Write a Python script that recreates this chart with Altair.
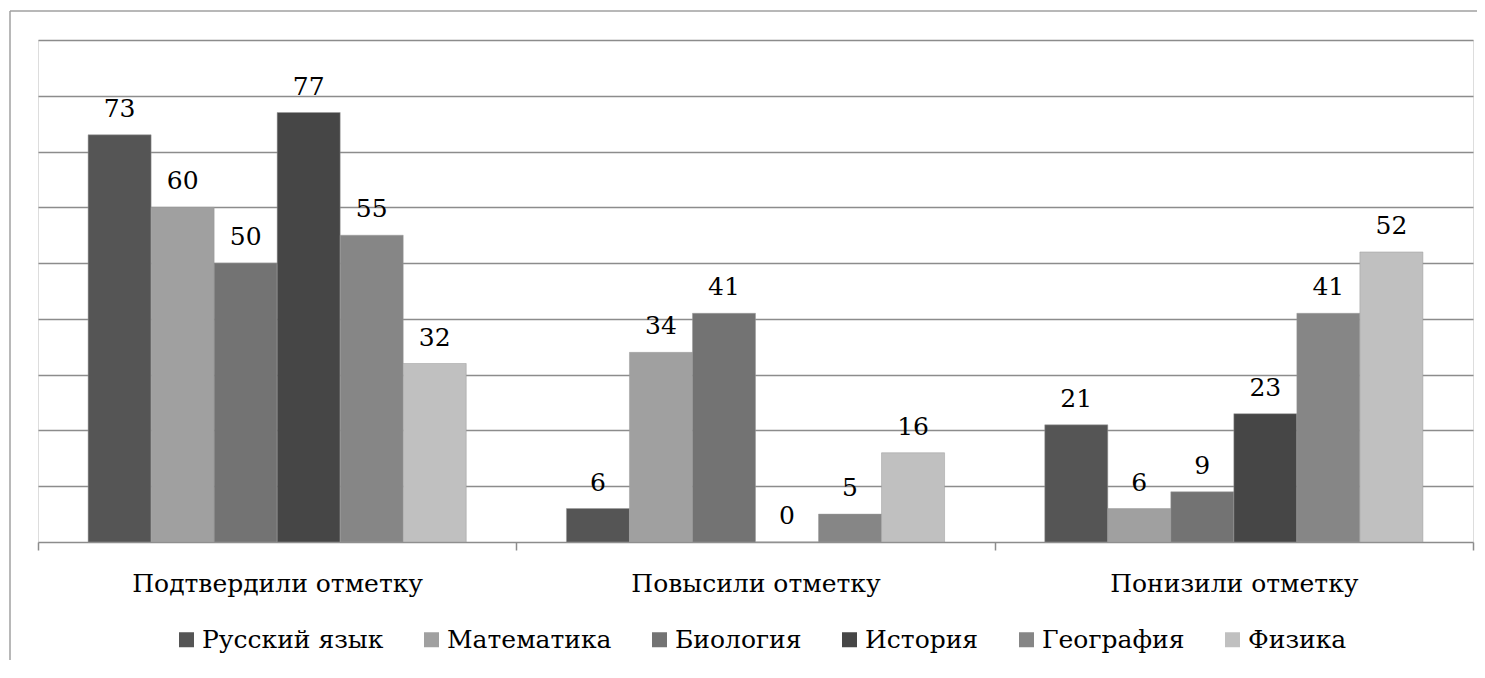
import altair as alt
import pandas as pd

categories = ["Подтвердили отметку", "Повысили отметку", "Понизили отметку"]
subjects = ["Русский язык", "Математика", "Биология", "История", "География", "Физика"]
values_rus = [73, 6, 21]
values_math = [60, 34, 6]
values_bio = [50, 41, 9]
values_hist = [77, 0, 23]
values_geo = [55, 5, 41]
values_phys = [32, 16, 52]
colors = ["#555555", "#a0a0a0", "#737373", "#464646", "#868686", "#c0c0c0"]
grid_values = [10, 20, 30, 40, 50, 60, 70, 80, 90]

series = [values_rus, values_math, values_bio, values_hist, values_geo, values_phys]
rows = []
for s, vals in zip(subjects, series):
    for c, v in zip(categories, vals):
        rows.append({"category": c, "subject": s, "value": v})
df = pd.DataFrame(rows)

FONT = "DejaVu Serif"
FS = 25
LEG_FS = 25
GRAY = "#8c8c8c"

x_enc = alt.X(
    "category:N", sort=categories, title=None,
    scale=alt.Scale(paddingInner=0, paddingOuter=0),
    axis=alt.Axis(labelAngle=0, tickBand="extent", labelFont=FONT, labelFontSize=FS,
                  labelColor="black", domainColor=GRAY, domainWidth=1.5, tickColor=GRAY,
                  tickWidth=1.5, tickSize=8, labelPadding=21, labelLimit=0, grid=False),
)
xoff = alt.XOffset("subject:N", sort=subjects,
                   scale=alt.Scale(paddingInner=0, paddingOuter=0.795))
y_enc = alt.Y(
    "value:Q", title=None, scale=alt.Scale(domain=[0, 90], nice=False),
    axis=alt.Axis(values=grid_values, labels=False, ticks=False, domain=False, grid=True,
                  gridColor=GRAY, gridWidth=1.5),
)

base = alt.Chart(df)
bars = base.mark_bar(stroke="#9a9a9a", strokeWidth=0.5).encode(
    x=x_enc, xOffset=xoff, y=y_enc,
    color=alt.Color(
        "subject:N", sort=subjects,
        scale=alt.Scale(domain=subjects, range=colors),
        legend=alt.Legend(orient="none", legendX=136, legendY=587, direction="horizontal",
                          title=None, symbolType="square", symbolSize=225,
                          symbolStrokeWidth=0, labelFont=FONT, labelFontSize=LEG_FS,
                          labelColor="black", columnPadding=35, labelOffset=3,
                          labelLimit=0),
    ),
)
labels = base.mark_text(font=FONT, fontSize=FS, color="black", baseline="alphabetic", dy=-18).encode(
    x=alt.X("category:N", sort=categories), xOffset=xoff, y=alt.Y("value:Q"),
    text=alt.Text("value:Q"),
)

frame_df = pd.DataFrame({"k": [0]})
frame_top = alt.Chart(frame_df).mark_rule(color="#a0a0a0", strokeWidth=1.5).encode(
    x=alt.value(-28), x2=alt.value(1450), y=alt.value(-29)
)
frame_left = alt.Chart(frame_df).mark_rule(color="#a0a0a0", strokeWidth=1.5).encode(
    x=alt.value(-28), y=alt.value(-29), y2=alt.value(700)
)

chart = alt.layer(bars, labels, frame_top, frame_left).properties(
    width=1435, height=502,
    padding={"left": 30, "top": 32, "right": 4, "bottom": 118},
    autosize=alt.AutoSizeParams(type="none"),
).configure_view(stroke=None).configure(background="white")

chart.save("out.html", embed_options={"renderer": "svg", "actions": False})
